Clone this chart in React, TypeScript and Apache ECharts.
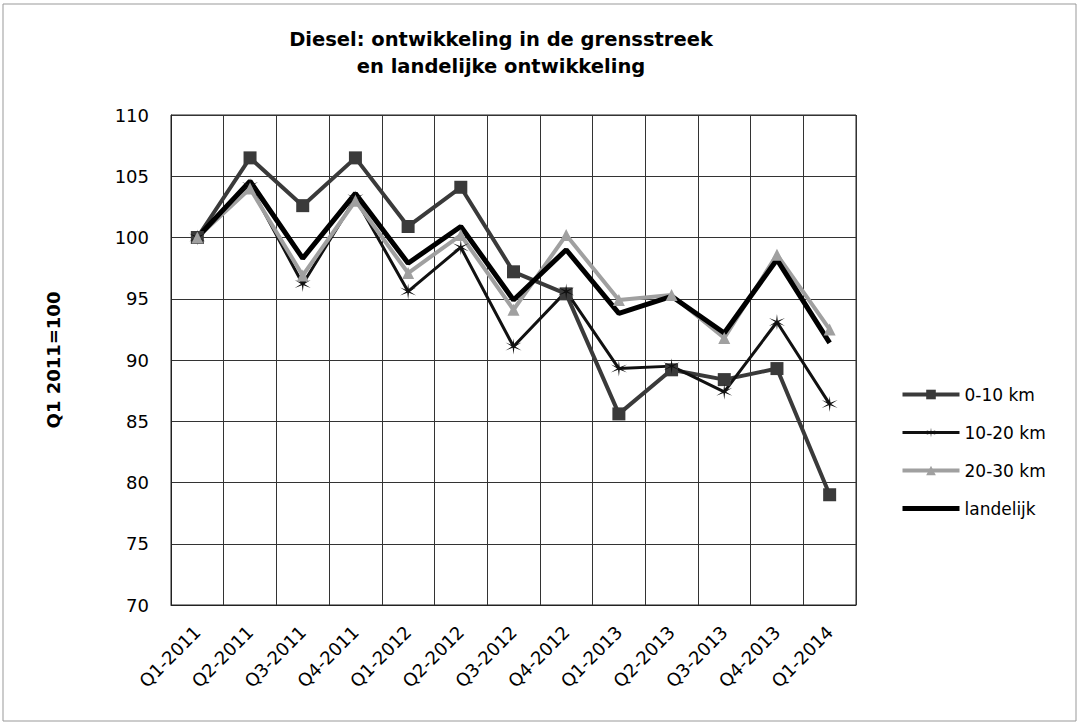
import React, { useEffect, useRef } from "react";
import * as echarts from "echarts";

const categories = [
  "Q1-2011", "Q2-2011", "Q3-2011", "Q4-2011",
  "Q1-2012", "Q2-2012", "Q3-2012", "Q4-2012",
  "Q1-2013", "Q2-2013", "Q3-2013", "Q4-2013", "Q1-2014",
];
const km0_10 = [100, 106.5, 102.6, 106.5, 100.9, 104.1, 97.2, 95.4, 85.6, 89.2, 88.4, 89.3, 79.0];
const km10_20 = [100, 104.2, 96.2, 103.2, 95.6, 99.2, 91.1, 95.6, 89.3, 89.5, 87.4, 93.1, 86.4];
const km20_30 = [100, 104.0, 96.9, 103.0, 97.1, 100.2, 94.1, 100.2, 94.9, 95.3, 91.8, 98.6, 92.5];
const landelijk = [100, 104.6, 98.3, 103.6, 97.9, 100.9, 94.9, 99.0, 93.8, 95.2, 92.2, 98.2, 91.4];
const seriesNames = ["0-10 km", "10-20 km", "20-30 km", "landelijk"];
const yTicks = { min: 70, max: 110, interval: 5 };

function asteriskPath(): string {
  const pts: string[] = [];
  const n = 6;
  for (let i = 0; i < n * 2; i++) {
    const a = (Math.PI * i) / n;
    const r = i % 2 === 0 ? 10 : 1.8;
    pts.push(`${(r * Math.sin(a)).toFixed(2)},${(-r * Math.cos(a)).toFixed(2)}`);
  }
  return "path://M" + pts.join(" L") + " Z";
}

export default function App() {
  const ref = useRef<HTMLDivElement>(null);
  useEffect(() => {
    if (!ref.current) return;
    const chart = echarts.init(ref.current, null, { renderer: "svg" });
    const font = "DejaVu Sans, Verdana, sans-serif";
    const mk = (name: string, data: number[], color: string, width: number, symbol: string, symbolSize: number, showSymbol: boolean) => ({
      name,
      type: "line",
      data,
      symbol,
      symbolSize,
      showSymbol,
      lineStyle: { color, width },
      itemStyle: { color },
    });
    chart.setOption({
      animation: false,
      backgroundColor: "#fff",
      title: {
        text: "Diesel: ontwikkeling in de grensstreek\nen landelijke ontwikkeling",
        left: 496,
        top: 21,
        textAlign: "center",
        textStyle: { fontFamily: font, fontSize: 19.5, fontWeight: "bold", color: "#000", lineHeight: 27 },
      },
      legend: {
        orient: "vertical",
        left: 895,
        top: 381,
        itemWidth: 57,
        itemHeight: 12,
        itemGap: 21,
        lineStyle: { width: "inherit" },
        data: [
          seriesNames[0],
          seriesNames[1],
          seriesNames[2],
          { name: seriesNames[3], itemStyle: { opacity: 0 } },
        ],
        textStyle: { fontFamily: font, fontSize: 17, color: "#000" },
      },
      grid: {
        left: 171,
        right: 225,
        top: 115,
        bottom: 121,
        show: true,
        borderColor: "#222",
        borderWidth: 1,
      },
      xAxis: {
        type: "category",
        data: categories,
        boundaryGap: true,
        axisLine: { lineStyle: { color: "#222" } },
        axisTick: { show: false },
        splitLine: { show: true, lineStyle: { color: "#333", width: 1 } },
        axisLabel: {
          rotate: 45,
          interval: 0,
          margin: 24,
          fontFamily: font,
          fontSize: 18,
          color: "#000",
        },
      },
      yAxis: {
        type: "value",
        min: yTicks.min,
        max: yTicks.max,
        interval: yTicks.interval,
        name: "Q1 2011=100",
        nameLocation: "middle",
        nameGap: 109,
        nameTextStyle: { fontFamily: font, fontSize: 18, fontWeight: "bold", color: "#000" },
        axisLine: { show: true, lineStyle: { color: "#222" } },
        axisTick: { show: false },
        splitLine: { show: true, lineStyle: { color: "#333", width: 1 } },
        axisLabel: { fontFamily: font, fontSize: 18, color: "#000", margin: 22 },
      },
      graphic: [
        {
          type: "rect",
          shape: { x: 3, y: 4, width: 1073, height: 717 },
          style: { fill: "none", stroke: "#999", lineWidth: 1 },
          silent: true,
        },
      ],
      series: [
        mk(seriesNames[0], km0_10, "#3a3a3a", 4, "rect", 13, true),
        mk(seriesNames[1], km10_20, "#111111", 3, asteriskPath(), 16, true),
        mk(seriesNames[2], km20_30, "#a0a0a0", 4, "triangle", 12, true),
        mk(seriesNames[3], landelijk, "#000000", 5, "none", 0, false),
      ],
    });
    return () => chart.dispose();
  }, []);
  return (
    <div
      ref={ref}
      style={{ position: "fixed", left: 0, top: 0, width: 1081, height: 726 }}
    />
  );
}
